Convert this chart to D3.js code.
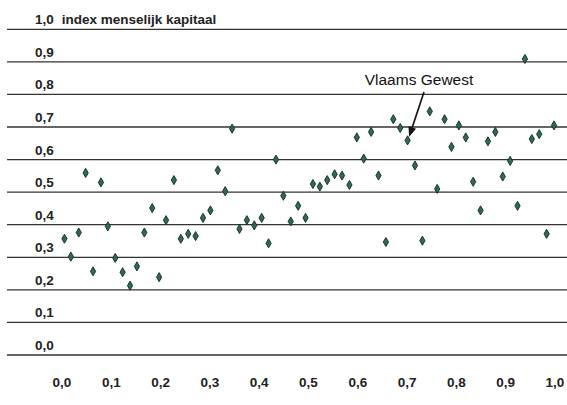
<!DOCTYPE html>
<html>
<head>
<meta charset="utf-8">
<script src="https://cdn.jsdelivr.net/npm/d3@7"></script>
<style>
  html, body { margin: 0; padding: 0; background: #fff; }
  svg { display: block; }
  .lbl { font-family: "Liberation Sans", Arial, sans-serif; font-weight: bold; font-size: 13.5px; fill: #222; }
  .note { font-family: "Liberation Sans", Arial, sans-serif; font-size: 15.5px; fill: #111; }
</style>
</head>
<body>
<script>
// x: rank-based position (0..1), y: index menselijk kapitaal
const xValues = [0.005, 0.018, 0.034, 0.048, 0.063, 0.079, 0.093, 0.108, 0.123, 0.138,
  0.152, 0.167, 0.183, 0.197, 0.211, 0.227, 0.241, 0.256, 0.271, 0.286,
  0.301, 0.316, 0.331, 0.345, 0.360, 0.375, 0.390, 0.405, 0.419, 0.434,
  0.449, 0.464, 0.479, 0.494, 0.509, 0.523, 0.538, 0.553, 0.568, 0.583,
  0.598, 0.612, 0.627, 0.642, 0.657, 0.672, 0.686, 0.701, 0.716, 0.731,
  0.746, 0.761, 0.776, 0.790, 0.805, 0.819, 0.834, 0.849, 0.864, 0.879,
  0.894, 0.909, 0.924, 0.939, 0.953, 0.968, 0.983, 0.998];
const yValues = [0.357, 0.302, 0.376, 0.559, 0.257, 0.530, 0.395, 0.298, 0.254, 0.213,
  0.272, 0.376, 0.451, 0.239, 0.414, 0.537, 0.357, 0.372, 0.365, 0.421,
  0.444, 0.567, 0.503, 0.695, 0.387, 0.414, 0.398, 0.421, 0.343, 0.600,
  0.489, 0.410, 0.458, 0.421, 0.525, 0.517, 0.537, 0.555, 0.551, 0.522,
  0.668, 0.603, 0.685, 0.551, 0.347, 0.724, 0.697, 0.659, 0.582, 0.351,
  0.748, 0.510, 0.724, 0.639, 0.705, 0.668, 0.532, 0.444, 0.656, 0.685,
  0.548, 0.596, 0.458, 0.909, 0.663, 0.678, 0.372, 0.705];

const tickValues = [0, 0.1, 0.2, 0.3, 0.4, 0.5, 0.6, 0.7, 0.8, 0.9, 1.0];
const tickLabels = ["0,0", "0,1", "0,2", "0,3", "0,4", "0,5", "0,6", "0,7", "0,8", "0,9", "1,0"];

const titleText = "index menselijk kapitaal";
const noteText = "Vlaams Gewest";
const noteIndex = 47; // Vlaams Gewest

const width = 567;
const height = 405;

const x = d3.scaleLinear().domain([0, 1]).range([62, 555]);
const y = d3.scaleLinear().domain([0, 1]).range([355, 29.3]);

const svg = d3.select("body").append("svg")
    .attr("width", width)
    .attr("height", height);

// horizontal gridlines
svg.append("g")
  .selectAll("line")
  .data(tickValues)
  .join("line")
    .attr("x1", 7)
    .attr("x2", width)
    .attr("y1", d => y(d))
    .attr("y2", d => y(d))
    .attr("stroke", "#333")
    .attr("stroke-width", 1.3);

// y labels above each gridline
svg.append("g")
  .selectAll("text")
  .data(tickValues)
  .join("text")
    .attr("class", "lbl")
    .attr("x", 35)
    .attr("y", d => y(d) - 5)
    .text((d, i) => tickLabels[i]);

svg.append("text")
    .attr("class", "lbl")
    .attr("x", 61.7)
    .attr("y", y(1) - 5)
    .text(titleText);

// x labels
svg.append("g")
  .selectAll("text")
  .data(tickValues)
  .join("text")
    .attr("class", "lbl")
    .attr("x", d => x(d))
    .attr("y", 387)
    .attr("text-anchor", "middle")
    .text((d, i) => tickLabels[i]);

// points
const diamond = d3.symbol().type(d3.symbolDiamond).size(24);
svg.append("g")
  .selectAll("path")
  .data(xValues.map((d, i) => [d, yValues[i]]))
  .join("path")
    .attr("transform", d => `translate(${x(d[0])},${y(d[1])})`)
    .attr("d", diamond)
    .attr("fill", "#2b6b5a")
    .attr("stroke", "#1a2622")
    .attr("stroke-width", 0.9);

// annotation
const tx = x(xValues[noteIndex]) + 1.5;
const ty = y(yValues[noteIndex]) - 3.5;
const sx = 424, sy = 92;

svg.append("text")
    .attr("class", "note")
    .attr("x", 419)
    .attr("y", 85)
    .attr("text-anchor", "middle")
    .text(noteText);

const ang = Math.atan2(ty - sy, tx - sx);
const headLen = 10, headW = 4;
const bx = tx - headLen * Math.cos(ang), by = ty - headLen * Math.sin(ang);

svg.append("line")
    .attr("x1", sx).attr("y1", sy)
    .attr("x2", bx).attr("y2", by)
    .attr("stroke", "#111")
    .attr("stroke-width", 1.6);

svg.append("path")
    .attr("d", d3.line()([
      [tx, ty],
      [bx + headW * Math.sin(ang), by - headW * Math.cos(ang)],
      [bx - headW * Math.sin(ang), by + headW * Math.cos(ang)]
    ]) + "Z")
    .attr("fill", "#111");
</script>
</body>
</html>
